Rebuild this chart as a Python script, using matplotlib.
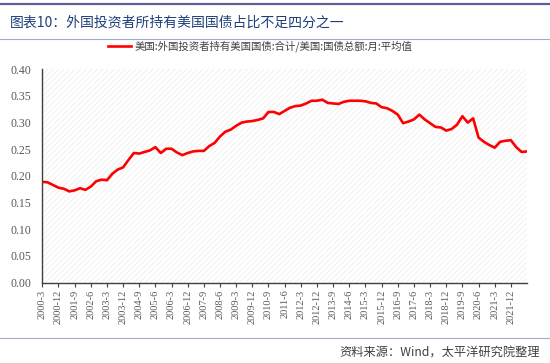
import matplotlib
matplotlib.use("Agg")
import matplotlib.pyplot as plt
from matplotlib.lines import Line2D
from matplotlib.ticker import FormatStrFormatter

plt.rcParams['font.family'] = ['Noto Sans CJK SC', 'DejaVu Sans']
plt.rcParams['hatch.linewidth'] = 0.6

# quarterly dates, 2000-3 .. 2022-9
dates = [f"{y}-{m}" for y in range(2000, 2023) for m in (3, 6, 9, 12)][:91]

ratio = [
    0.189, 0.188, 0.183, 0.178, 0.176, 0.171, 0.173, 0.177, 0.174, 0.180,
    0.190, 0.193, 0.192, 0.204, 0.212, 0.216, 0.230, 0.243, 0.242, 0.245,
    0.248, 0.254, 0.243, 0.251, 0.251, 0.244, 0.239, 0.243, 0.246, 0.247,
    0.247, 0.256, 0.262, 0.274, 0.283, 0.287, 0.294, 0.300, 0.302, 0.303,
    0.305, 0.308, 0.320, 0.320, 0.316, 0.322, 0.328, 0.331, 0.332, 0.336,
    0.341, 0.341, 0.343, 0.337, 0.336, 0.335, 0.339, 0.341, 0.341, 0.341,
    0.340, 0.337, 0.336, 0.329, 0.327, 0.322, 0.315, 0.299, 0.302, 0.306,
    0.315, 0.306, 0.299, 0.292, 0.291, 0.285, 0.288, 0.296, 0.312, 0.300,
    0.308, 0.272, 0.264, 0.258, 0.253, 0.264, 0.266, 0.267, 0.254, 0.245,
    0.246,
]

title = "图表10：外国投资者所持有美国国债占比不足四分之一"
legend_label = "美国:外国投资者持有美国国债:合计/美国:国债总额:月:平均值"
source = "资料来源：Wind，太平洋研究院整理"
yticks = [0.00, 0.05, 0.10, 0.15, 0.20, 0.25, 0.30, 0.35, 0.40]

W, H = 550, 363
fig = plt.figure(figsize=(W / 100, H / 100), dpi=100)

ax = fig.add_axes([42.3 / W, 1 - 282.6 / H, (527 - 42.3) / W, (282.6 - 69.3) / H])
ax.patch.set_facecolor('white')
ax.patch.set_hatch('//////')
ax.patch.set_edgecolor('#efefef')

x = list(range(len(ratio)))
ax.plot(x, ratio, color='#ff0000', lw=1.9, solid_joinstyle='round')

ax.set_xlim(0, len(ratio) - 1)
ax.set_ylim(0, 0.40)
ax.set_yticks(yticks)
ax.yaxis.set_major_formatter(FormatStrFormatter('%.2f'))
tick_idx = list(range(0, len(dates), 3))[:30]
ax.set_xticks(tick_idx)
ax.set_xticklabels([dates[i] for i in tick_idx], rotation=90,
                   fontfamily='Liberation Serif', fontsize=7.5, color='#595959')
for lab in ax.get_yticklabels():
    lab.set_fontfamily('Liberation Serif')
    lab.set_fontsize(8.5)
    lab.set_color('#595959')

ax.tick_params(axis='y', length=0, pad=8)
ax.tick_params(axis='x', direction='out', length=3, width=0.8, color='#404040', pad=2)
for s in ('top', 'right'):
    ax.spines[s].set_visible(False)
for s in ('left', 'bottom'):
    ax.spines[s].set_color('#404040')
    ax.spines[s].set_linewidth(1.0)

# decorations
fig.add_artist(Line2D([0.0, 1.0], [1 - 4 / H, 1 - 4 / H], color='#5f5f9c', lw=1.6))
fig.add_artist(Line2D([0.0, 1.0], [1 - 38.5 / H, 1 - 38.5 / H], color='#a7a7cf', lw=0.8))
fig.add_artist(Line2D([0.0, 1.0], [1 - 337.5 / H, 1 - 337.5 / H], color='#a7a7cf', lw=0.8))

fig.text(10 / W, 1 - 22.5 / H, title, fontsize=10.0, color='#1f3f7a', va='center', ha='left')

fig.add_artist(Line2D([108 / W, 131 / W], [1 - 46 / H, 1 - 46 / H], color='#ff0000', lw=1.9))
fig.text(135 / W, 1 - 46 / H, legend_label, fontsize=7.5, color='#404040', va='center', ha='left')

fig.text(540 / W, 1 - 353 / H, source, fontsize=8.8, color='#404040', va='center', ha='right')

fig.savefig('out.png', dpi=100)
